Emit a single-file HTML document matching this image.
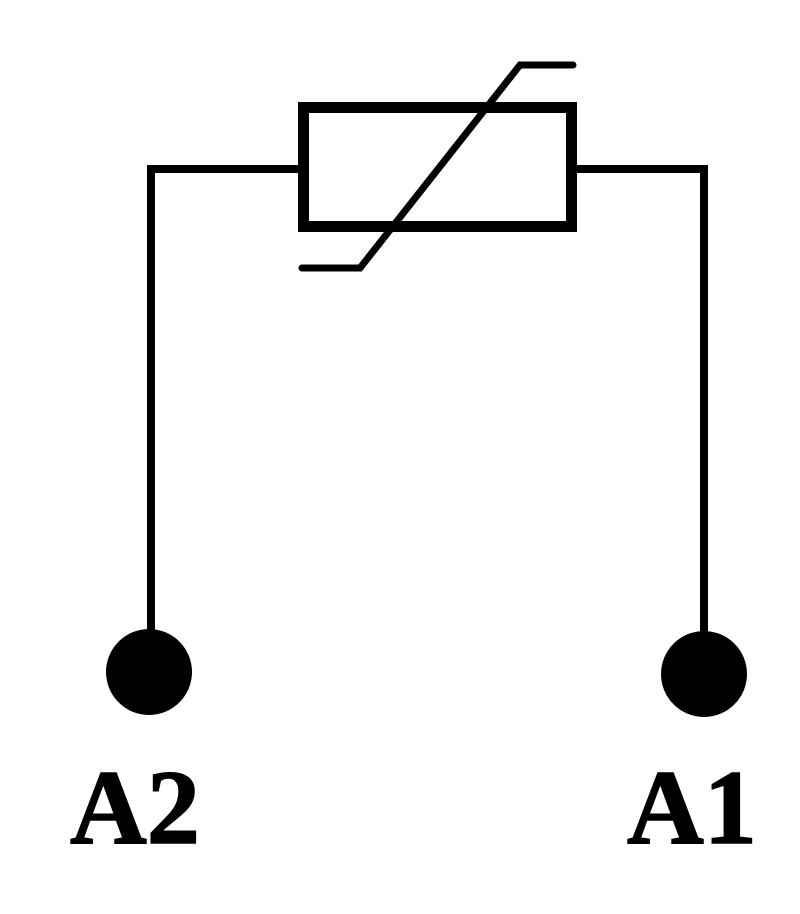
<!DOCTYPE html>
<html><head><style>html,body{margin:0;padding:0;background:#fff}</style></head>
<body>
<svg width="800" height="909" viewBox="0 0 800 909" xmlns="http://www.w3.org/2000/svg">
<rect width="800" height="909" fill="#fff"/>
<g stroke="#000" fill="none">
<rect x="303.5" y="107.5" width="268" height="119" stroke-width="11"/>
<polyline points="151,640 151,169 298,169" stroke-width="8"/>
<polyline points="577,169 704,169 704,640" stroke-width="8"/>
<polyline points="302,268 360,268 520,65 573,65" stroke-width="7" stroke-linecap="round"/>
</g>
<ellipse cx="149" cy="672" rx="43" ry="43" fill="#000"/>
<ellipse cx="704" cy="674" rx="43" ry="43" fill="#000"/>
<g font-family="'Liberation Serif', serif" font-weight="bold" font-size="106" fill="#000" stroke="#000" stroke-width="1.5">
<text x="70" y="843" textLength="130" lengthAdjust="spacingAndGlyphs">A2</text>
<text x="627" y="843" textLength="130" lengthAdjust="spacingAndGlyphs">A1</text>
</g>
</svg>
</body></html>
